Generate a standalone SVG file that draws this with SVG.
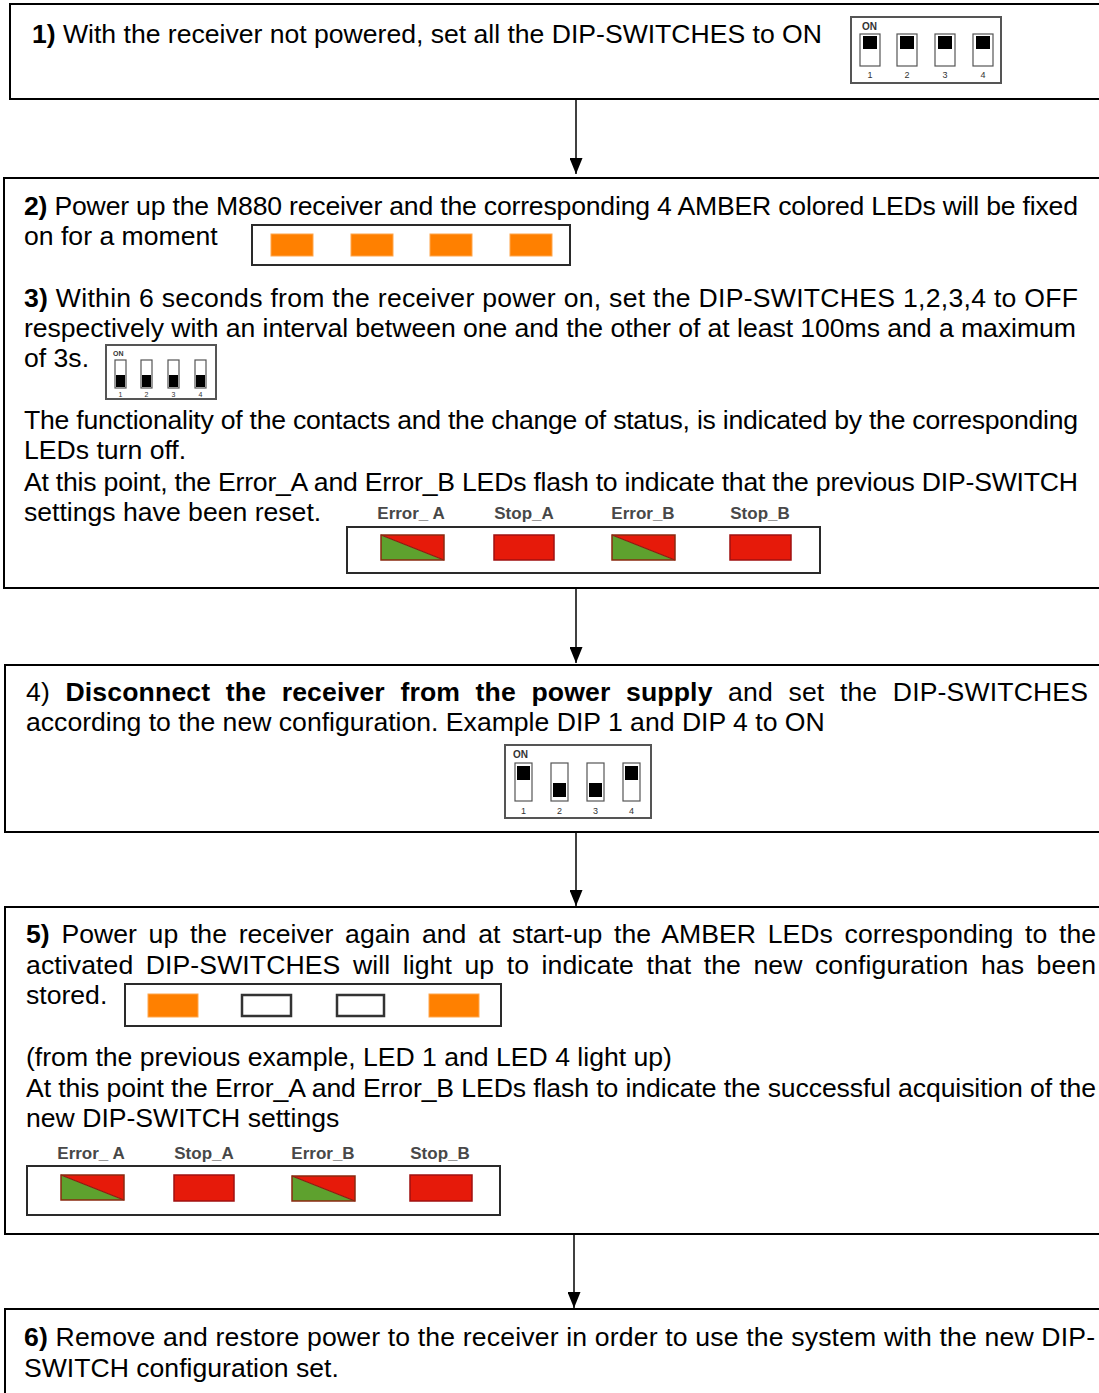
<svg xmlns="http://www.w3.org/2000/svg" xmlns:xlink="http://www.w3.org/1999/xlink" width="1099" height="1393" viewBox="0 0 1099 1393">
<style>
  .box { fill: #ffffff; stroke: #000000; stroke-width: 2; }
  .t { font-family: "Liberation Sans", Arial, sans-serif; font-size: 26.6px; fill: #000000; }
  .b { font-weight: bold; }
  .lbl { font-family: "Liberation Sans", Arial, sans-serif; font-size: 17px; font-weight: bold; fill: #484848; text-anchor: middle; }
  .panel { fill: #ffffff; stroke: #2a2a2a; stroke-width: 2; }
  .amber { fill: #ff8000; stroke: #ffa64d; stroke-width: 1; }
  .hollow { fill: #ffffff; stroke: #333333; stroke-width: 2.5; }
  .stop { fill: #e61a0a; stroke: #a01010; stroke-width: 1.5; }
  .dipbox { fill: #ffffff; stroke: #555555; stroke-width: 2; }
  .sw { fill: #ffffff; stroke: #555555; stroke-width: 1.2; }
  .knob { fill: #000000; }
  .dipon { font-family: "Liberation Sans", Arial, sans-serif; font-weight: bold; fill: #333333; }
  .dipn { font-family: "Liberation Sans", Arial, sans-serif; fill: #333333; text-anchor: middle; }
  .conn { stroke: #000000; stroke-width: 1.5; fill: none; }
</style>
<defs>
  <marker id="arr" viewBox="0 0 16 13" refX="16" refY="6.5" markerWidth="16" markerHeight="13" markerUnits="userSpaceOnUse" orient="auto">
    <path d="M0,0 L16,6.5 L0,13 z" fill="#000000"/>
  </marker>
  <g id="errLed">
    <polygon points="0,0 63,25 0,25" fill="#5ea12e"/>
    <polygon points="0,0 63,0 63,25" fill="#e61a0a"/>
    <line x1="0" y1="0" x2="63" y2="25" stroke="#8a1a10" stroke-width="1.2"/>
    <rect x="0" y="0" width="63" height="25" fill="none" stroke="#8a2a10" stroke-width="1.5"/>
  </g>
</defs>
<rect width="1099" height="1393" fill="#ffffff"/>

<g id="connectors">
  <line class="conn" x1="576" y1="99" x2="576" y2="174" marker-end="url(#arr)"/>
  <line class="conn" x1="576" y1="588" x2="576" y2="663" marker-end="url(#arr)"/>
  <line class="conn" x1="576" y1="832" x2="576" y2="906" marker-end="url(#arr)"/>
  <line class="conn" x1="574" y1="1234" x2="574" y2="1308" marker-end="url(#arr)"/>
</g>

<g id="step1">
  <rect class="box" x="10" y="4" width="1100" height="95"/>
  <text class="t" x="32" y="43" textLength="790" lengthAdjust="spacing"><tspan class="b">1)</tspan> With the receiver not powered, set all the DIP-SWITCHES to ON</text>
  <g id="dip1">
    <rect class="dipbox" x="851" y="17" width="150" height="66"/>
    <text class="dipon" x="862" y="30" font-size="10">ON</text>
    <rect class="sw" x="860" y="34" width="20" height="32"/>
    <rect class="sw" x="897" y="34" width="20" height="32"/>
    <rect class="sw" x="935" y="34" width="20" height="32"/>
    <rect class="sw" x="973" y="34" width="20" height="32"/>
    <rect class="knob" x="863" y="36" width="14" height="13"/>
    <rect class="knob" x="900" y="36" width="14" height="13"/>
    <rect class="knob" x="938" y="36" width="14" height="13"/>
    <rect class="knob" x="976" y="36" width="14" height="13"/>
    <text class="dipn" x="870" y="78" font-size="9">1</text>
    <text class="dipn" x="907" y="78" font-size="9">2</text>
    <text class="dipn" x="945" y="78" font-size="9">3</text>
    <text class="dipn" x="983" y="78" font-size="9">4</text>
  </g>
</g>

<g id="step2-3">
  <rect class="box" x="4" y="178" width="1110" height="410"/>
  <text class="t" x="24" y="214.5" textLength="1054" lengthAdjust="spacing"><tspan class="b">2)</tspan> Power up the M880 receiver and the corresponding 4 AMBER colored LEDs will be fixed</text>
  <text class="t" x="24" y="245">on for a moment</text>
  <g id="leds2">
    <rect class="panel" x="252" y="225" width="318" height="40"/>
    <rect class="amber" x="271" y="234" width="42" height="22"/>
    <rect class="amber" x="351" y="234" width="42" height="22"/>
    <rect class="amber" x="430" y="234" width="42" height="22"/>
    <rect class="amber" x="510" y="234" width="42" height="22"/>
  </g>
  <text class="t" x="24" y="306.5" textLength="1054" lengthAdjust="spacing"><tspan class="b">3)</tspan> Within 6 seconds from the receiver power on, set the DIP-SWITCHES 1,2,3,4 to OFF</text>
  <text class="t" x="24" y="336.5" textLength="1052" lengthAdjust="spacing">respectively with an interval between one and the other of at least 100ms and a maximum</text>
  <text class="t" x="24" y="367">of 3s.</text>
  <g id="dip3">
    <rect class="dipbox" x="106" y="345" width="110" height="54"/>
    <text class="dipon" x="113" y="356" font-size="7">ON</text>
    <rect class="sw" x="115" y="360" width="11" height="28"/>
    <rect class="sw" x="141" y="360" width="11" height="28"/>
    <rect class="sw" x="168" y="360" width="11" height="28"/>
    <rect class="sw" x="195" y="360" width="11" height="28"/>
    <rect class="knob" x="116" y="375" width="9" height="12"/>
    <rect class="knob" x="142" y="375" width="9" height="12"/>
    <rect class="knob" x="169" y="375" width="9" height="12"/>
    <rect class="knob" x="196" y="375" width="9" height="12"/>
    <text class="dipn" x="120.5" y="397" font-size="7">1</text>
    <text class="dipn" x="146.5" y="397" font-size="7">2</text>
    <text class="dipn" x="173.5" y="397" font-size="7">3</text>
    <text class="dipn" x="200.5" y="397" font-size="7">4</text>
  </g>
  <text class="t" x="24" y="428.5" textLength="1054" lengthAdjust="spacing">The functionality of the contacts and the change of status, is indicated by the corresponding</text>
  <text class="t" x="24" y="459">LEDs turn off.</text>
  <text class="t" x="24" y="490.5" textLength="1054" lengthAdjust="spacing">At this point, the Error_A and Error_B LEDs flash to indicate that the previous DIP-SWITCH</text>
  <text class="t" x="24" y="521">settings have been reset.</text>
  <g id="errpanel3">
    <text class="lbl" x="411" y="519">Error_ A</text>
    <text class="lbl" x="524" y="519">Stop_A</text>
    <text class="lbl" x="643" y="519">Error_B</text>
    <text class="lbl" x="760" y="519">Stop_B</text>
    <rect class="panel" x="347" y="527" width="473" height="46"/>
    <use xlink:href="#errLed" x="381" y="535"/>
    <rect class="stop" x="494" y="535" width="60" height="25"/>
    <use xlink:href="#errLed" x="612" y="535"/>
    <rect class="stop" x="730" y="535" width="61" height="25"/>
  </g>
</g>

<g id="step4">
  <rect class="box" x="5" y="665" width="1110" height="167"/>
  <text class="t" x="26" y="700.5" word-spacing="8" textLength="1062" lengthAdjust="spacing">4) <tspan class="b">Disconnect the receiver from the power supply</tspan> and set the DIP-SWITCHES</text>
  <text class="t" x="26" y="731">according to the new configuration. Example DIP 1 and DIP 4 to ON</text>
  <g id="dip4">
    <rect class="dipbox" x="505" y="745" width="146" height="73"/>
    <text class="dipon" x="513" y="758" font-size="10">ON</text>
    <rect class="sw" x="515" y="763" width="17" height="38"/>
    <rect class="sw" x="551" y="763" width="17" height="38"/>
    <rect class="sw" x="587" y="763" width="17" height="38"/>
    <rect class="sw" x="623" y="763" width="17" height="38"/>
    <rect class="knob" x="517" y="766" width="13" height="14"/>
    <rect class="knob" x="553" y="783" width="13" height="14"/>
    <rect class="knob" x="589" y="783" width="13" height="14"/>
    <rect class="knob" x="625" y="766" width="13" height="14"/>
    <text class="dipn" x="523.5" y="814" font-size="9">1</text>
    <text class="dipn" x="559.5" y="814" font-size="9">2</text>
    <text class="dipn" x="595.5" y="814" font-size="9">3</text>
    <text class="dipn" x="631.5" y="814" font-size="9">4</text>
  </g>
</g>

<g id="step5">
  <rect class="box" x="5" y="907" width="1110" height="327"/>
  <text class="t" x="26" y="942.5" word-spacing="4.3" textLength="1070" lengthAdjust="spacing"><tspan class="b">5)</tspan> Power up the receiver again and at start-up the AMBER LEDs corresponding to the</text>
  <text class="t" x="26" y="973.5" word-spacing="5" textLength="1070" lengthAdjust="spacing">activated DIP-SWITCHES will light up to indicate that the new configuration has been</text>
  <text class="t" x="26" y="1004">stored.</text>
  <g id="leds5">
    <rect class="panel" x="125" y="984" width="376" height="42"/>
    <rect class="amber" x="148" y="994" width="50" height="23"/>
    <rect class="hollow" x="242" y="995" width="49" height="21"/>
    <rect class="hollow" x="337" y="995" width="47" height="21"/>
    <rect class="amber" x="429" y="994" width="50" height="23"/>
  </g>
  <text class="t" x="26" y="1065.5">(from the previous example, LED 1 and LED 4 light up)</text>
  <text class="t" x="26" y="1096.5" textLength="1070" lengthAdjust="spacing">At this point the Error_A and Error_B LEDs flash to indicate the successful acquisition of the</text>
  <text class="t" x="26" y="1126.5">new DIP-SWITCH settings</text>
  <g id="errpanel5">
    <text class="lbl" x="91" y="1159">Error_ A</text>
    <text class="lbl" x="204" y="1159">Stop_A</text>
    <text class="lbl" x="323" y="1159">Error_B</text>
    <text class="lbl" x="440" y="1159">Stop_B</text>
    <rect class="panel" x="27" y="1166" width="473" height="49"/>
    <use xlink:href="#errLed" x="61" y="1175"/>
    <rect class="stop" x="174" y="1175" width="60" height="26"/>
    <use xlink:href="#errLed" x="292" y="1176"/>
    <rect class="stop" x="410" y="1175" width="62" height="26"/>
  </g>
</g>

<g id="step6">
  <rect class="box" x="5" y="1309" width="1110" height="100"/>
  <text class="t" x="24" y="1345.5" textLength="1071" lengthAdjust="spacing"><tspan class="b">6)</tspan> Remove and restore power to the receiver in order to use the system with the new DIP-</text>
  <text class="t" x="24" y="1376.5">SWITCH configuration set.</text>
</g>
</svg>
